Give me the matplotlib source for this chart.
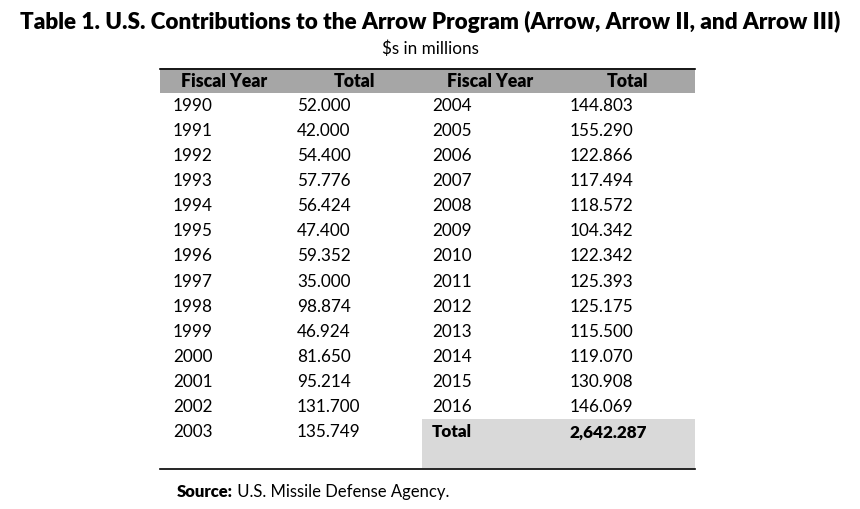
import matplotlib.pyplot as plt
from matplotlib.patches import Rectangle

# ─────────────────────────────────────────────
# Data
# ─────────────────────────────────────────────

TITLE = "Table 1. U.S. Contributions to the Arrow Program (Arrow, Arrow II, and Arrow III)"
SUBTITLE = "$s in millions"
HEADERS = ["Fiscal Year", "Total", "Fiscal Year", "Total"]

years_left = ["1990", "1991", "1992", "1993", "1994", "1995", "1996",
              "1997", "1998", "1999", "2000", "2001", "2002", "2003"]
totals_left = ["52.000", "42.000", "54.400", "57.776", "56.424", "47.400", "59.352",
               "35.000", "98.874", "46.924", "81.650", "95.214", "131.700", "135.749"]
years_right = ["2004", "2005", "2006", "2007", "2008", "2009", "2010",
               "2011", "2012", "2013", "2014", "2015", "2016"]
totals_right = ["144.803", "155.290", "122.866", "117.494", "118.572", "104.342", "122.342",
                "125.393", "125.175", "115.500", "119.070", "130.908", "146.069"]
grand_total = "2,642.287"
SOURCE_LABEL = "Source:"
SOURCE_TEXT = " U.S. Missile Defense Agency."

# ─────────────────────────────────────────────
# Layout (pixel coordinates)
# ─────────────────────────────────────────────

W, H = 860, 509
FONT = "Lato"
BODY = 12.3
X0, X1 = 160, 695
ROW0, ROW_H = 105.5, 25.15
COL_X = [173, 297, 432, 570]
HEAD_X = [224, 354, 490, 627]

fig = plt.figure(figsize=(W / 100, H / 100), dpi=100)
ax = fig.add_axes([0, 0, 1, 1])
ax.set_xlim(0, W)
ax.set_ylim(H, 0)
ax.axis("off")

ax.text(W / 2, 22, TITLE, ha="center", va="center", fontsize=16.2,
        fontweight="heavy", family=FONT)
ax.text(W / 2, 49, SUBTITLE, ha="center", va="center", fontsize=12.3, family=FONT)

# header band
ax.add_patch(Rectangle((X0, 68), X1 - X0, 24.5, facecolor="#a6a6a6", edgecolor="none"))
ax.plot([X0, X1], [68.5, 68.5], color="black", lw=1.2)
for x, label in zip(HEAD_X, HEADERS):
    ax.text(x, 81, label, ha="center", va="center", fontsize=12.7,
            fontweight="heavy", family=FONT)

# body rows
for i, (yr, val) in enumerate(zip(years_left, totals_left)):
    y = ROW0 + i * ROW_H
    ax.text(COL_X[0], y, yr, ha="left", va="center", fontsize=BODY, family=FONT)
    ax.text(COL_X[1], y, val, ha="left", va="center", fontsize=BODY, family=FONT)
for i, (yr, val) in enumerate(zip(years_right, totals_right)):
    y = ROW0 + i * ROW_H
    ax.text(COL_X[2], y, yr, ha="left", va="center", fontsize=BODY, family=FONT)
    ax.text(COL_X[3], y, val, ha="left", va="center", fontsize=BODY, family=FONT)

# total box
y_tot = ROW0 + len(years_right) * ROW_H
ax.add_patch(Rectangle((422, 419), X1 - 422, 49, facecolor="#d9d9d9", edgecolor="none"))
ax.text(COL_X[2], y_tot, "Total", ha="left", va="center", fontsize=BODY,
        fontweight="heavy", family=FONT)
ax.text(COL_X[3], y_tot, grand_total, ha="left", va="center", fontsize=BODY,
        fontweight="heavy", family=FONT)

ax.plot([X0, X1], [468.5, 468.5], color="black", lw=1.2)

# source note
t = ax.text(177, 492, SOURCE_LABEL, ha="left", va="center", fontsize=12,
            fontweight="heavy", family=FONT)
fig.canvas.draw()
bb = t.get_window_extent()
x_end = ax.transData.inverted().transform((bb.x1, bb.y0))[0]
ax.text(x_end, 492, SOURCE_TEXT, ha="left", va="center", fontsize=12, family=FONT)

fig.savefig("out.png", dpi=100)
